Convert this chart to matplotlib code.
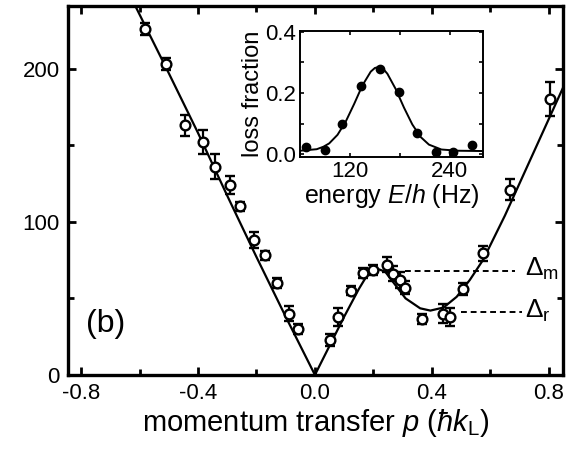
import numpy as np
import matplotlib.pyplot as plt
from matplotlib.ticker import MultipleLocator

plt.rcParams['font.family'] = ['Liberation Sans', 'DejaVu Sans']
plt.rcParams['mathtext.fontset'] = 'custom'
plt.rcParams['mathtext.rm'] = 'Liberation Sans'
plt.rcParams['mathtext.it'] = 'Liberation Sans:italic'

# measured excitation energies (Hz) vs momentum transfer (hbar k_L)
p_data = [-0.581, -0.509, -0.444, -0.383, -0.342, -0.291, -0.256, -0.207,
          -0.171, -0.129, -0.088, -0.059, 0.051, 0.080, 0.123, 0.163, 0.199,
          0.246, 0.268, 0.290, 0.308, 0.368, 0.439, 0.462, 0.505, 0.575,
          0.669, 0.806]
e_data = [226, 203, 163, 152, 136, 124, 110, 88,
          78, 60, 40, 30, 23, 38, 55, 66.5, 68.5,
          72, 66, 62, 57, 36.5, 40, 38, 56, 79.5,
          121, 180]
e_err = [4, 4, 7, 8, 8, 6, 3, 5,
         3, 3, 5, 3, 4, 6, 3, 3, 3,
         5, 5, 5, 4, 3, 6, 6, 4, 5,
         7, 11]

# theory curve
p_fit = [-0.62, -0.5, -0.4, -0.3, -0.2, -0.1, 0.0, 0.05, 0.1, 0.15, 0.18,
         0.21, 0.24, 0.27, 0.31, 0.36, 0.395, 0.44, 0.485, 0.53, 0.575,
         0.65, 0.75, 0.85]
e_fit = [243, 197, 158, 117, 77, 38, 0, 19, 38, 56, 65.5,
         69.5, 67.5, 60, 50, 43.5, 42, 44, 51, 62, 75,
         104, 146, 188]

# inset: loss spectrum
e_inset = [67, 90, 111, 133, 156, 179, 201, 223, 244, 267]
loss_inset = [0.024, 0.013, 0.098, 0.224, 0.280, 0.202, 0.068, 0.006, 0.006, 0.030]
e_inset_fit = [60, 80, 88, 95, 105, 115, 125, 135, 145, 150, 155, 160, 165,
               175, 185, 195, 205, 215, 230, 250, 280]
loss_inset_fit = [0.011, 0.016, 0.024, 0.035, 0.063, 0.107, 0.164, 0.225,
                  0.270, 0.282, 0.285, 0.279, 0.263, 0.213, 0.152, 0.097,
                  0.056, 0.031, 0.015, 0.011, 0.010]

delta_m = 68
delta_r = 41

fig = plt.figure(figsize=(5.76, 4.49), dpi=100)
ax = fig.add_axes([0.118, 0.165, 0.859, 0.822])

ax.plot(p_fit, e_fit, color='black', lw=1.6, zorder=2)
ax.errorbar(p_data, e_data, yerr=e_err, fmt='o', mfc='white', mec='black',
            ecolor='black', ms=7, mew=1.7, elinewidth=1.6, capsize=3.5,
            capthick=1.6, zorder=3)

ax.plot([0.308, 0.684], [delta_m, delta_m], ls=(0, (3, 2)), color='black', lw=1.4)
ax.plot([0.50, 0.707], [delta_r, delta_r], ls=(0, (3, 2)), color='black', lw=1.4)
ax.text(0.72, delta_m + 1, r'$\Delta_{\mathrm{m}}$', fontsize=19, va='center', ha='left')
ax.text(0.72, delta_r + 1, r'$\Delta_{\mathrm{r}}$', fontsize=19, va='center', ha='left')
ax.text(-0.785, 33, '(b)', fontsize=23, va='center', ha='left')

ax.set_xlim(-0.845, 0.848)
ax.set_ylim(0, 241)
ax.xaxis.set_minor_locator(MultipleLocator(0.2))
ax.yaxis.set_major_locator(MultipleLocator(100))
ax.yaxis.set_minor_locator(MultipleLocator(50))
ax.set_xticks([-0.8, -0.4, 0.0, 0.4, 0.8])
ax.set_xticklabels(['-0.8', '-0.4', '0.0', '0.4', '0.8'])
ax.tick_params(which='both', direction='in', top=True, right=True,
               width=2, labelsize=16)
ax.tick_params(which='major', length=6, pad=6)
ax.tick_params(which='minor', length=4)
for s in ax.spines.values():
    s.set_linewidth(2.4)
ax.set_xlabel(r'momentum transfer $p$ ($\hbar k_{\mathrm{L}}$)', fontsize=21, labelpad=2)

ins = fig.add_axes([0.521, 0.650, 0.3175, 0.281])
ins.plot(e_inset_fit, loss_inset_fit, color='black', lw=1.4)
ins.plot(e_inset, loss_inset, 'o', color='black', ms=6)
ins.set_xlim(60, 280)
ins.set_ylim(-0.01, 0.403)
ins.xaxis.set_major_locator(MultipleLocator(120))
ins.xaxis.set_minor_locator(MultipleLocator(60))
ins.yaxis.set_major_locator(MultipleLocator(0.2))
ins.yaxis.set_minor_locator(MultipleLocator(0.1))
ins.tick_params(which='both', direction='in', top=True, right=True,
                width=1.2, labelsize=16, length=3, pad=3)
for s in ins.spines.values():
    s.set_linewidth(1.4)
ins.set_xlabel(r'energy $E/h$ (Hz)', fontsize=18, labelpad=0)
ins.set_ylabel('loss fraction', fontsize=17, labelpad=1)

fig.savefig('out.png', dpi=100)
